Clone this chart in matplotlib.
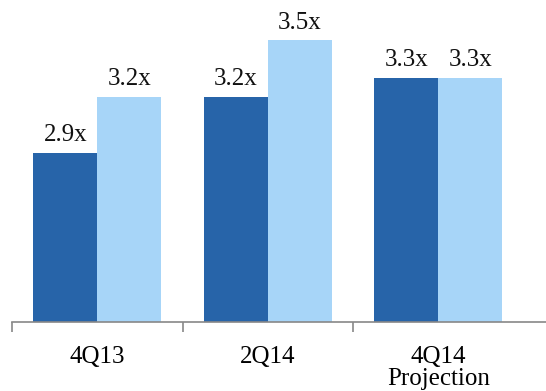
import matplotlib.pyplot as plt
import numpy as np

periods = ['4Q13', '2Q14', '4Q14\nProjection']
series_a = [2.9, 3.2, 3.3]
series_b = [3.2, 3.5, 3.3]

plt.rcParams['font.family'] = ['Liberation Serif', 'DejaVu Serif']

fig = plt.figure(figsize=(5.46, 3.91), dpi=100)
ax = fig.add_axes([12 / 546, 69 / 391, 1 - 12 / 546, 1 - 69 / 391])

x = np.arange(len(periods))
w = 0.375
bars_a = ax.bar(x - w / 2, series_a, w, bottom=0, color='#2764A9')
bars_b = ax.bar(x + w / 2, series_b, w, bottom=0, color='#A7D5F8')

for bars, vals in ((bars_a, series_a), (bars_b, series_b)):
    for b, v in zip(bars, vals):
        ax.text(b.get_x() + b.get_width() / 2, v + 0.035, '%.1fx' % v,
                ha='center', va='bottom', fontsize=18, color='#111111')

ax.set_ylim(2.0, 3.714)
ax.set_xlim(-0.5, (546 - 12) / 170.5 - 0.5)

for s in ['top', 'right', 'left']:
    ax.spines[s].set_visible(False)
ax.spines['bottom'].set_color('#888888')
ax.spines['bottom'].set_linewidth(1.2)
ax.set_yticks([])

ax.set_xticks([-0.5, 0.5, 1.5])
ax.set_xticklabels([])
ax.tick_params(axis='x', which='major', length=7, width=1.2, color='#888888')
ax.set_xticks(x, minor=True)
ax.set_xticklabels(periods, minor=True, fontsize=18, linespacing=1.0)
ax.tick_params(axis='x', which='minor', length=0, pad=17)

fig.savefig('out.png', dpi=100)
